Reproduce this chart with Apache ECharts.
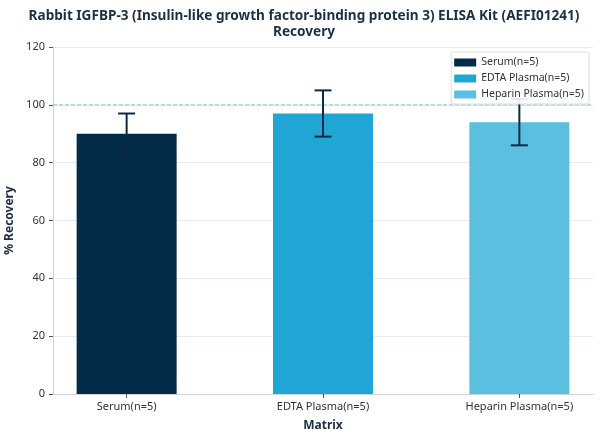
<!DOCTYPE html>
<html>
<head>
<meta charset="utf-8">
<script src="https://cdn.jsdelivr.net/npm/echarts@6/dist/echarts.min.js"></script>
<style>html,body{margin:0;padding:0;background:#fff}#c{width:608px;height:439px}</style>
</head>
<body>
<div id="c"></div>
<script>
var categories = ['Serum(n=5)', 'EDTA Plasma(n=5)', 'Heparin Plasma(n=5)'];
var recovery = [90, 97, 94];
var errors = [7, 8, 8];
var colors = ['#022b4a', '#20a6d4', '#5bbfe0'];
var yTicks = [0, 20, 40, 60, 80, 100, 120];
var refLine = 100;

var FONT = 'Noto Sans';
var chart = echarts.init(document.getElementById('c'));

var series = categories.map(function (name, i) {
  return {
    name: name,
    type: 'bar',
    barWidth: 100,
    barGap: '-100%',
    itemStyle: { color: colors[i] },
    data: [[i, recovery[i]]],
    z: 2
  };
});
series.push({
  type: 'custom',
  name: 'ref',
  z: 1,
  silent: true,
  data: [[0, refLine]],
  renderItem: function (params, api) {
    var cs = params.coordSys;
    var p = api.coord([0, api.value(1)]);
    return {
      type: 'line',
      shape: { x1: cs.x, y1: p[1], x2: cs.x + cs.width, y2: p[1] },
      style: { stroke: '#8cc6da', lineWidth: 1, lineDash: [4, 2] }
    };
  }
});
series.push({
  type: 'custom',
  name: 'err',
  z: 5,
  data: categories.map(function (c, i) { return [i, recovery[i] - errors[i], recovery[i] + errors[i]]; }),
  renderItem: function (params, api) {
    var lo = api.coord([api.value(0), api.value(1)]);
    var hi = api.coord([api.value(0), api.value(2)]);
    var hw = 8.5;
    var st = { stroke: '#0d2a45', lineWidth: 2 };
    return {
      type: 'group',
      children: [
        { type: 'line', shape: { x1: lo[0], y1: lo[1], x2: hi[0], y2: hi[1] }, style: st },
        { type: 'line', shape: { x1: lo[0] - hw, y1: lo[1], x2: lo[0] + hw, y2: lo[1] }, style: st },
        { type: 'line', shape: { x1: hi[0] - hw, y1: hi[1], x2: hi[0] + hw, y2: hi[1] }, style: st }
      ]
    };
  }
});

chart.setOption({
  animation: false,
  textStyle: { fontFamily: FONT },
  title: {
    text: 'Rabbit IGFBP-3 (Insulin-like growth factor-binding protein 3) ELISA Kit (AEFI01241)\nRecovery',
    left: 'center',
    top: 3,
    textStyle: { fontFamily: FONT, fontSize: 13.6, fontWeight: 'bold', color: '#1b2f45', lineHeight: 16 }
  },
  legend: {
    data: categories,
    right: 19,
    top: 52,
    orient: 'vertical',
    itemWidth: 22,
    itemHeight: 8,
    itemGap: 5,
    padding: [5, 5, 4, 3],
    borderColor: '#d8dde2',
    borderWidth: 1,
    borderRadius: 2,
    backgroundColor: 'rgba(255,255,255,0.9)',
    icon: 'rect',
    z: 10,
    textStyle: { fontFamily: FONT, fontSize: 10.5, color: '#333' }
  },
  grid: { left: 53, right: 15, top: 47, bottom: 45, containLabel: false, outerBoundsMode: 'none' },
  xAxis: {
    type: 'value',
    min: -0.375,
    max: 2.375,
    name: 'Matrix',
    nameLocation: 'middle',
    nameGap: 26,
    nameTextStyle: { fontFamily: FONT, fontSize: 12, fontWeight: 'bold', color: '#1b2f45' },
    splitLine: { show: false },
    axisLine: { show: true, onZero: false, lineStyle: { color: '#cfd4d9' } },
    axisTick: { show: true, customValues: [0, 1, 2], length: 4, lineStyle: { color: '#555' } },
    axisLabel: {
      customValues: [0, 1, 2],
      formatter: function (v) { return categories[Math.round(v)]; },
      fontSize: 11, color: '#333', margin: 7
    }
  },
  yAxis: {
    type: 'value',
    min: 0,
    max: 120,
    interval: 20,
    name: '% Recovery',
    nameLocation: 'middle',
    nameGap: 14,
    nameTextStyle: { fontFamily: FONT, fontSize: 12, fontWeight: 'bold', color: '#1b2f45' },
    axisLine: { show: true, onZero: false, lineStyle: { color: '#cfd4d9' } },
    axisTick: { show: true, length: 4, lineStyle: { color: '#555' } },
    axisLabel: { fontSize: 11, color: '#333', margin: 8 },
    splitLine: { show: true, lineStyle: { color: '#e6eaee', width: 1 } }
  },
  series: series
});
</script>
</body>
</html>
